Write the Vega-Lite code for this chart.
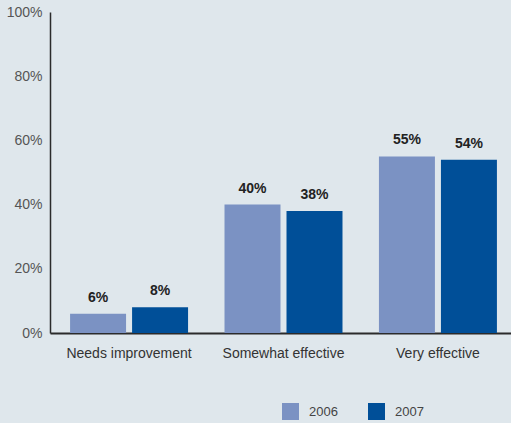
{
  "$schema": "https://vega.github.io/schema/vega-lite/v6.json",
  "autosize": "none",
  "width": 467,
  "height": 321,
  "padding": {"left": 50, "top": 12, "right": 0, "bottom": 90},
  "background": "#dfe7ec",
  "config": {
    "view": {"stroke": null},
    "font": "Liberation Sans"
  },
  "data": {
    "values": [
      {"category": "Needs improvement", "year": "2006", "value": 6},
      {"category": "Needs improvement", "year": "2007", "value": 8},
      {"category": "Somewhat effective", "year": "2006", "value": 40},
      {"category": "Somewhat effective", "year": "2007", "value": 38},
      {"category": "Very effective", "year": "2006", "value": 55},
      {"category": "Very effective", "year": "2007", "value": 54}
    ]
  },
  "transform": [{"calculate": "datum.value + '%'", "as": "label"}],
  "encoding": {
    "x": {
      "field": "category",
      "type": "nominal",
      "sort": null,
      "scale": {"paddingInner": 0.236, "paddingOuter": 0.13},
      "axis": {
        "title": null,
        "labelAngle": 0,
        "ticks": false,
        "labelPadding": 13,
        "labelFontSize": 14,
        "labelColor": "#333333",
        "domainColor": "#2b2b2b",
        "domainWidth": 2
      }
    },
    "xOffset": {
      "field": "year",
      "type": "nominal",
      "scale": {"paddingInner": 0.097}
    },
    "y": {
      "field": "value",
      "type": "quantitative",
      "scale": {"domain": [0, 100]},
      "axis": {
        "title": null,
        "values": [0, 20, 40, 60, 80, 100],
        "labelExpr": "datum.value + '%'",
        "grid": false,
        "ticks": false,
        "labelPadding": 8,
        "labelFontSize": 14,
        "labelColor": "#555555",
        "domainColor": "#2b2b2b",
        "domainWidth": 1.5
      }
    }
  },
  "layer": [
    {
      "mark": {"type": "bar"},
      "encoding": {
        "color": {
          "field": "year",
          "type": "nominal",
          "scale": {"domain": ["2006", "2007"], "range": ["#7b92c3", "#004f98"]},
          "legend": {
            "title": null,
            "orient": "none",
            "direction": "horizontal",
            "legendX": 232,
            "legendY": 391,
            "symbolType": "square",
            "symbolSize": 289,
            "symbolStrokeWidth": 0,
            "labelFontSize": 13,
            "labelColor": "#444444",
            "labelOffset": 10,
            "columnPadding": 30
          }
        }
      }
    },
    {
      "mark": {"type": "text", "dy": -16, "fontWeight": "bold", "fontSize": 14, "color": "#222222"},
      "encoding": {
        "text": {"field": "label", "type": "nominal"}
      }
    }
  ]
}
